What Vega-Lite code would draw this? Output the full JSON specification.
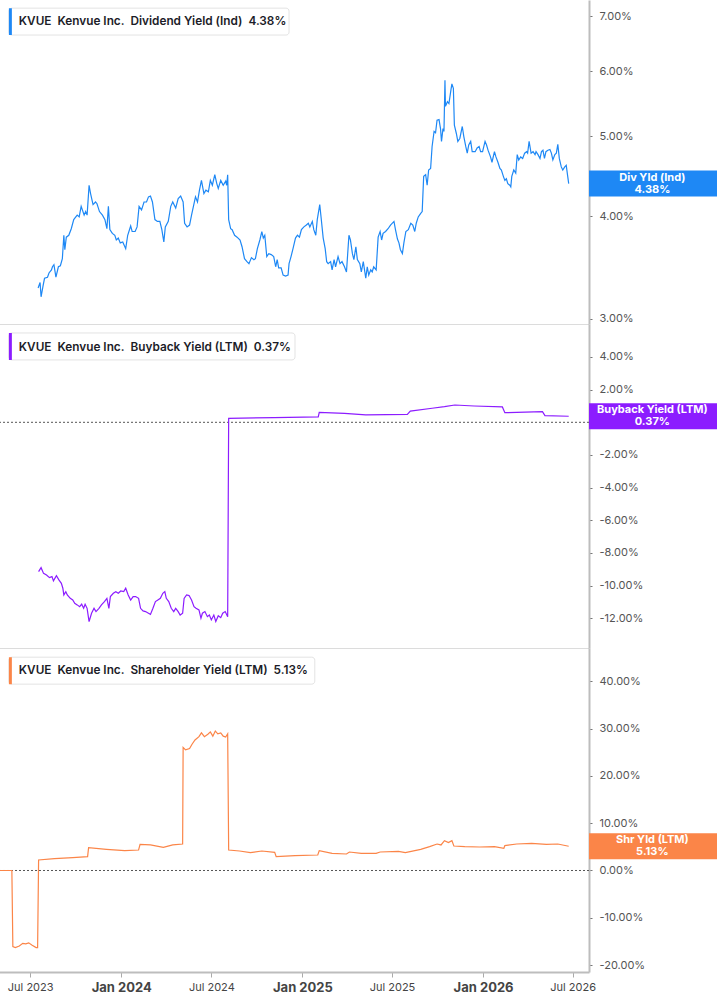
{
  "$schema": "https://vega.github.io/schema/vega-lite/v6.json",
  "padding": {"left": -4, "top": 0, "right": 4, "bottom": 0},
  "background": "white",
  "spacing": 0,
  "bounds": "flush",
  "config": {
    "view": {"stroke": null},
    "font": "Inter",
    "axis": {"grid": false, "labelFont": "Inter"},
    "text": {"font": "Inter"}
  },
  "datasets": {
    "div": [
      {"date":"2023-07-17","value":3.27},{"date":"2023-07-21","value":3.32},{"date":"2023-07-23","value":3.19},{"date":"2023-07-27","value":3.29},{"date":"2023-07-30","value":3.36},
      {"date":"2023-08-05","value":3.37},{"date":"2023-08-08","value":3.41},{"date":"2023-08-13","value":3.44},{"date":"2023-08-15","value":3.47},{"date":"2023-08-18","value":3.49},
      {"date":"2023-08-22","value":3.37},{"date":"2023-08-27","value":3.47},{"date":"2023-08-31","value":3.48},{"date":"2023-09-04","value":3.55},{"date":"2023-09-07","value":3.79},
      {"date":"2023-09-09","value":3.64},{"date":"2023-09-12","value":3.77},{"date":"2023-09-17","value":3.79},{"date":"2023-09-22","value":3.86},{"date":"2023-09-27","value":3.96},
      {"date":"2023-10-04","value":4.01},{"date":"2023-10-08","value":3.99},{"date":"2023-10-12","value":4.11},{"date":"2023-10-18","value":4.01},{"date":"2023-10-21","value":4.05},
      {"date":"2023-10-24","value":4.01},{"date":"2023-10-28","value":4.36},{"date":"2023-10-31","value":4.26},{"date":"2023-11-05","value":4.13},{"date":"2023-11-10","value":4.16},
      {"date":"2023-11-13","value":4.14},{"date":"2023-11-18","value":4.05},{"date":"2023-11-24","value":4.01},{"date":"2023-11-29","value":3.96},{"date":"2023-12-03","value":3.86},
      {"date":"2023-12-06","value":4.11},{"date":"2023-12-09","value":3.85},{"date":"2023-12-14","value":3.81},{"date":"2023-12-19","value":3.79},{"date":"2023-12-22","value":3.74},
      {"date":"2023-12-26","value":3.76},{"date":"2023-12-30","value":3.71},{"date":"2024-01-04","value":3.72},{"date":"2024-01-10","value":3.65},{"date":"2024-01-14","value":3.79},
      {"date":"2024-01-20","value":3.89},{"date":"2024-01-23","value":3.83},{"date":"2024-01-29","value":3.83},{"date":"2024-02-02","value":3.88},{"date":"2024-02-06","value":4.11},
      {"date":"2024-02-11","value":4.07},{"date":"2024-02-16","value":4.16},{"date":"2024-02-21","value":4.16},{"date":"2024-02-25","value":4.22},{"date":"2024-02-29","value":4.23},
      {"date":"2024-03-04","value":4.16},{"date":"2024-03-09","value":3.96},{"date":"2024-03-14","value":3.94},{"date":"2024-03-19","value":3.94},{"date":"2024-03-23","value":3.85},
      {"date":"2024-03-27","value":3.72},{"date":"2024-03-30","value":3.88},{"date":"2024-04-05","value":3.94},{"date":"2024-04-10","value":4.11},{"date":"2024-04-14","value":4.16},
      {"date":"2024-04-20","value":4.09},{"date":"2024-04-25","value":4.20},{"date":"2024-04-30","value":4.23},{"date":"2024-05-05","value":4.16},{"date":"2024-05-08","value":3.92},
      {"date":"2024-05-13","value":3.88},{"date":"2024-05-18","value":3.90},{"date":"2024-05-22","value":4.01},{"date":"2024-05-27","value":4.14},{"date":"2024-05-30","value":4.22},
      {"date":"2024-06-03","value":4.16},{"date":"2024-06-07","value":4.30},{"date":"2024-06-11","value":4.42},{"date":"2024-06-16","value":4.26},{"date":"2024-06-20","value":4.30},
      {"date":"2024-06-25","value":4.28},{"date":"2024-06-29","value":4.42},{"date":"2024-07-03","value":4.36},{"date":"2024-07-08","value":4.49},{"date":"2024-07-12","value":4.38},
      {"date":"2024-07-15","value":4.32},{"date":"2024-07-20","value":4.42},{"date":"2024-07-25","value":4.36},{"date":"2024-07-30","value":4.41},{"date":"2024-08-01","value":4.36},
      {"date":"2024-08-03","value":4.49},{"date":"2024-08-05","value":3.96},{"date":"2024-08-09","value":3.86},{"date":"2024-08-12","value":3.85},{"date":"2024-08-17","value":3.79},
      {"date":"2024-08-22","value":3.77},{"date":"2024-08-28","value":3.74},{"date":"2024-09-01","value":3.67},{"date":"2024-09-06","value":3.55},{"date":"2024-09-11","value":3.52},
      {"date":"2024-09-15","value":3.50},{"date":"2024-09-20","value":3.56},{"date":"2024-09-25","value":3.54},{"date":"2024-09-28","value":3.55},{"date":"2024-10-02","value":3.65},
      {"date":"2024-10-07","value":3.74},{"date":"2024-10-11","value":3.83},{"date":"2024-10-14","value":3.76},{"date":"2024-10-17","value":3.79},{"date":"2024-10-21","value":3.57},
      {"date":"2024-10-25","value":3.60},{"date":"2024-10-30","value":3.59},{"date":"2024-11-04","value":3.57},{"date":"2024-11-08","value":3.47},{"date":"2024-11-11","value":3.54},
      {"date":"2024-11-14","value":3.46},{"date":"2024-11-19","value":3.46},{"date":"2024-11-23","value":3.39},{"date":"2024-11-28","value":3.38},{"date":"2024-12-03","value":3.39},
      {"date":"2024-12-05","value":3.50},{"date":"2024-12-09","value":3.57},{"date":"2024-12-13","value":3.65},{"date":"2024-12-18","value":3.76},{"date":"2024-12-22","value":3.79},
      {"date":"2024-12-26","value":3.77},{"date":"2024-12-30","value":3.85},{"date":"2025-01-04","value":3.88},{"date":"2025-01-09","value":3.90},{"date":"2025-01-13","value":3.92},
      {"date":"2025-01-16","value":3.88},{"date":"2025-01-21","value":3.94},{"date":"2025-01-24","value":3.85},{"date":"2025-01-28","value":3.79},{"date":"2025-01-31","value":3.96},
      {"date":"2025-02-05","value":4.13},{"date":"2025-02-08","value":3.97},{"date":"2025-02-12","value":3.76},{"date":"2025-02-16","value":3.65},{"date":"2025-02-19","value":3.52},
      {"date":"2025-02-22","value":3.50},{"date":"2025-02-27","value":3.52},{"date":"2025-03-02","value":3.44},{"date":"2025-03-06","value":3.54},{"date":"2025-03-09","value":3.47},
      {"date":"2025-03-14","value":3.57},{"date":"2025-03-18","value":3.50},{"date":"2025-03-22","value":3.52},{"date":"2025-03-27","value":3.47},{"date":"2025-03-31","value":3.42},
      {"date":"2025-04-05","value":3.79},{"date":"2025-04-08","value":3.74},{"date":"2025-04-12","value":3.60},{"date":"2025-04-15","value":3.54},{"date":"2025-04-19","value":3.67},
      {"date":"2025-04-22","value":3.54},{"date":"2025-04-27","value":3.50},{"date":"2025-04-30","value":3.42},{"date":"2025-05-04","value":3.52},{"date":"2025-05-09","value":3.36},
      {"date":"2025-05-12","value":3.47},{"date":"2025-05-15","value":3.39},{"date":"2025-05-19","value":3.44},{"date":"2025-05-22","value":3.42},{"date":"2025-05-25","value":3.47},
      {"date":"2025-05-30","value":3.44},{"date":"2025-06-03","value":3.77},{"date":"2025-06-07","value":3.83},{"date":"2025-06-10","value":3.74},{"date":"2025-06-13","value":3.81},
      {"date":"2025-06-18","value":3.83},{"date":"2025-06-23","value":3.86},{"date":"2025-06-28","value":3.90},{"date":"2025-07-05","value":3.94},{"date":"2025-07-08","value":3.85},
      {"date":"2025-07-12","value":3.75},{"date":"2025-07-15","value":3.71},{"date":"2025-07-18","value":3.64},{"date":"2025-07-22","value":3.60},{"date":"2025-07-25","value":3.71},
      {"date":"2025-07-29","value":3.83},{"date":"2025-08-03","value":3.85},{"date":"2025-08-08","value":3.92},{"date":"2025-08-12","value":3.90},{"date":"2025-08-16","value":3.83},
      {"date":"2025-08-19","value":3.92},{"date":"2025-08-23","value":3.99},{"date":"2025-08-28","value":4.03},{"date":"2025-08-31","value":4.05},{"date":"2025-09-03","value":4.47},
      {"date":"2025-09-07","value":4.49},{"date":"2025-09-10","value":4.36},{"date":"2025-09-13","value":4.55},{"date":"2025-09-17","value":4.57},{"date":"2025-09-20","value":4.86},
      {"date":"2025-09-24","value":5.07},{"date":"2025-09-27","value":5.05},{"date":"2025-09-30","value":5.23},{"date":"2025-10-04","value":5.24},{"date":"2025-10-07","value":5.11},
      {"date":"2025-10-09","value":4.93},{"date":"2025-10-12","value":5.11},{"date":"2025-10-14","value":5.07},{"date":"2025-10-16","value":5.85},{"date":"2025-10-17","value":5.44},
      {"date":"2025-10-21","value":5.51},{"date":"2025-10-24","value":5.48},{"date":"2025-10-28","value":5.69},{"date":"2025-10-30","value":5.79},{"date":"2025-11-02","value":5.72},
      {"date":"2025-11-04","value":5.16},{"date":"2025-11-08","value":5.04},{"date":"2025-11-11","value":4.93},{"date":"2025-11-15","value":4.97},{"date":"2025-11-20","value":5.14},
      {"date":"2025-11-23","value":5.00},{"date":"2025-11-27","value":4.86},{"date":"2025-11-30","value":4.77},{"date":"2025-12-03","value":4.88},{"date":"2025-12-07","value":4.93},
      {"date":"2025-12-10","value":4.79},{"date":"2025-12-16","value":4.79},{"date":"2025-12-20","value":4.84},{"date":"2025-12-24","value":4.86},{"date":"2025-12-27","value":4.79},
      {"date":"2025-12-31","value":4.79},{"date":"2026-01-05","value":4.93},{"date":"2026-01-08","value":4.88},{"date":"2026-01-11","value":4.81},{"date":"2026-01-16","value":4.72},
      {"date":"2026-01-19","value":4.65},{"date":"2026-01-24","value":4.79},{"date":"2026-01-27","value":4.72},{"date":"2026-01-31","value":4.65},{"date":"2026-02-04","value":4.57},
      {"date":"2026-02-07","value":4.55},{"date":"2026-02-11","value":4.47},{"date":"2026-02-14","value":4.42},{"date":"2026-02-17","value":4.44},{"date":"2026-02-20","value":4.38},
      {"date":"2026-02-24","value":4.36},{"date":"2026-02-26","value":4.34},{"date":"2026-02-28","value":4.47},{"date":"2026-03-04","value":4.55},{"date":"2026-03-08","value":4.51},
      {"date":"2026-03-11","value":4.75},{"date":"2026-03-14","value":4.68},{"date":"2026-03-18","value":4.72},{"date":"2026-03-22","value":4.70},{"date":"2026-03-26","value":4.77},
      {"date":"2026-03-30","value":4.79},{"date":"2026-04-01","value":4.77},{"date":"2026-04-04","value":4.93},{"date":"2026-04-08","value":4.77},{"date":"2026-04-12","value":4.79},
      {"date":"2026-04-16","value":4.75},{"date":"2026-04-18","value":4.79},{"date":"2026-04-22","value":4.75},{"date":"2026-04-26","value":4.70},{"date":"2026-04-29","value":4.79},
      {"date":"2026-05-02","value":4.81},{"date":"2026-05-05","value":4.70},{"date":"2026-05-08","value":4.79},{"date":"2026-05-12","value":4.81},{"date":"2026-05-16","value":4.82},
      {"date":"2026-05-19","value":4.77},{"date":"2026-05-22","value":4.68},{"date":"2026-05-26","value":4.75},{"date":"2026-05-29","value":4.77},{"date":"2026-06-01","value":4.89},
      {"date":"2026-06-04","value":4.70},{"date":"2026-06-08","value":4.59},{"date":"2026-06-11","value":4.55},{"date":"2026-06-15","value":4.59},{"date":"2026-06-18","value":4.61},
      {"date":"2026-06-21","value":4.47},{"date":"2026-06-23","value":4.38}
    ],
    "bb": [
      {"date":"2023-07-18","value":-9.14},{"date":"2023-07-23","value":-8.90},{"date":"2023-07-28","value":-9.25},{"date":"2023-08-03","value":-9.35},{"date":"2023-08-09","value":-9.51},
      {"date":"2023-08-14","value":-9.45},{"date":"2023-08-17","value":-9.71},{"date":"2023-08-23","value":-9.39},{"date":"2023-08-28","value":-9.65},{"date":"2023-09-02","value":-9.86},
      {"date":"2023-09-05","value":-10.16},{"date":"2023-09-07","value":-10.57},{"date":"2023-09-11","value":-10.37},{"date":"2023-09-14","value":-10.57},{"date":"2023-09-20","value":-10.78},
      {"date":"2023-09-25","value":-10.88},{"date":"2023-09-29","value":-11.08},{"date":"2023-10-04","value":-11.18},{"date":"2023-10-09","value":-11.29},{"date":"2023-10-13","value":-11.14},
      {"date":"2023-10-17","value":-11.39},{"date":"2023-10-20","value":-11.14},{"date":"2023-10-24","value":-11.39},{"date":"2023-10-28","value":-12.20},{"date":"2023-11-02","value":-11.69},
      {"date":"2023-11-07","value":-11.39},{"date":"2023-11-11","value":-11.59},{"date":"2023-11-17","value":-11.39},{"date":"2023-11-22","value":-11.18},{"date":"2023-11-28","value":-10.98},
      {"date":"2023-12-03","value":-10.78},{"date":"2023-12-07","value":-11.39},{"date":"2023-12-10","value":-10.67},{"date":"2023-12-16","value":-10.47},{"date":"2023-12-21","value":-10.37},
      {"date":"2023-12-26","value":-10.47},{"date":"2023-12-31","value":-10.33},{"date":"2024-01-06","value":-10.37},{"date":"2024-01-10","value":-10.16},{"date":"2024-01-15","value":-10.57},
      {"date":"2024-01-20","value":-10.88},{"date":"2024-01-25","value":-10.67},{"date":"2024-01-30","value":-10.67},{"date":"2024-02-05","value":-10.78},{"date":"2024-02-09","value":-11.39},
      {"date":"2024-02-14","value":-11.55},{"date":"2024-02-19","value":-11.59},{"date":"2024-02-25","value":-11.69},{"date":"2024-02-29","value":-11.76},{"date":"2024-03-05","value":-11.39},
      {"date":"2024-03-10","value":-10.98},{"date":"2024-03-15","value":-10.88},{"date":"2024-03-20","value":-10.78},{"date":"2024-03-25","value":-10.47},{"date":"2024-03-29","value":-10.37},
      {"date":"2024-04-01","value":-10.78},{"date":"2024-04-06","value":-10.98},{"date":"2024-04-11","value":-11.39},{"date":"2024-04-16","value":-11.59},{"date":"2024-04-20","value":-11.39},
      {"date":"2024-04-25","value":-11.59},{"date":"2024-04-29","value":-11.80},{"date":"2024-05-04","value":-11.69},{"date":"2024-05-07","value":-10.78},{"date":"2024-05-12","value":-10.57},
      {"date":"2024-05-17","value":-10.61},{"date":"2024-05-22","value":-10.88},{"date":"2024-05-27","value":-11.29},{"date":"2024-05-31","value":-11.39},{"date":"2024-06-06","value":-11.49},
      {"date":"2024-06-10","value":-12.00},{"date":"2024-06-13","value":-11.69},{"date":"2024-06-18","value":-11.59},{"date":"2024-06-23","value":-11.90},{"date":"2024-06-27","value":-11.80},
      {"date":"2024-07-01","value":-12.10},{"date":"2024-07-06","value":-11.80},{"date":"2024-07-10","value":-12.20},{"date":"2024-07-15","value":-11.84},{"date":"2024-07-20","value":-11.96},
      {"date":"2024-07-24","value":-11.69},{"date":"2024-07-29","value":-11.59},{"date":"2024-08-03","value":-11.90},{"date":"2024-08-05","value":0.24},{"date":"2024-11-05","value":0.29},
      {"date":"2025-02-02","value":0.33},{"date":"2025-02-04","value":0.61},{"date":"2025-03-27","value":0.55},{"date":"2025-05-09","value":0.45},{"date":"2025-08-01","value":0.49},
      {"date":"2025-08-07","value":0.69},{"date":"2025-09-20","value":0.86},{"date":"2025-10-15","value":0.96},{"date":"2025-11-05","value":1.06},{"date":"2025-12-14","value":1.00},
      {"date":"2026-02-09","value":0.94},{"date":"2026-02-14","value":0.59},{"date":"2026-05-01","value":0.65},{"date":"2026-05-06","value":0.41},{"date":"2026-06-23","value":0.37}
    ],
    "shr": [
      {"date":"2023-04-29","value":0},{"date":"2023-05-25","value":0},{"date":"2023-05-27","value":-16.1},{"date":"2023-06-01","value":-16.3},{"date":"2023-06-09","value":-15.96},
      {"date":"2023-06-16","value":-15.4},{"date":"2023-06-22","value":-15.5},{"date":"2023-06-28","value":-15.3},{"date":"2023-07-05","value":-15.8},{"date":"2023-07-13","value":-16.3},
      {"date":"2023-07-16","value":-16.3},{"date":"2023-07-18","value":2.22},{"date":"2023-08-19","value":2.50},{"date":"2023-09-25","value":2.71},{"date":"2023-10-25","value":2.92},
      {"date":"2023-10-27","value":4.82},{"date":"2023-12-02","value":4.48},{"date":"2024-01-08","value":4.19},{"date":"2024-02-05","value":4.33},{"date":"2024-02-08","value":5.54},
      {"date":"2024-02-29","value":5.40},{"date":"2024-03-26","value":4.90},{"date":"2024-04-14","value":5.40},{"date":"2024-05-04","value":5.60},{"date":"2024-05-05","value":26.0},
      {"date":"2024-05-10","value":25.5},{"date":"2024-05-18","value":25.8},{"date":"2024-05-23","value":26.7},{"date":"2024-05-29","value":27.6},{"date":"2024-06-06","value":28.3},
      {"date":"2024-06-11","value":29.1},{"date":"2024-06-17","value":28.3},{"date":"2024-06-24","value":28.8},{"date":"2024-06-29","value":29.3},{"date":"2024-07-04","value":28.4},
      {"date":"2024-07-09","value":29.5},{"date":"2024-07-14","value":28.9},{"date":"2024-07-20","value":29.1},{"date":"2024-07-25","value":28.4},{"date":"2024-07-30","value":28.2},
      {"date":"2024-08-03","value":28.9},{"date":"2024-08-05","value":4.33},{"date":"2024-08-27","value":4.12},{"date":"2024-09-18","value":3.77},{"date":"2024-10-11","value":4.12},
      {"date":"2024-11-06","value":3.84},{"date":"2024-11-09","value":2.92},{"date":"2024-12-17","value":3.13},{"date":"2025-02-01","value":3.27},{"date":"2025-02-04","value":4.19},
      {"date":"2025-03-02","value":3.64},{"date":"2025-03-31","value":3.49},{"date":"2025-04-06","value":3.91},{"date":"2025-04-30","value":3.64},{"date":"2025-05-30","value":3.64},
      {"date":"2025-06-07","value":3.91},{"date":"2025-07-14","value":4.05},{"date":"2025-07-28","value":3.77},{"date":"2025-08-28","value":4.48},{"date":"2025-09-15","value":5.04},
      {"date":"2025-09-30","value":5.60},{"date":"2025-10-08","value":5.40},{"date":"2025-10-15","value":6.31},{"date":"2025-10-23","value":5.89},{"date":"2025-10-30","value":6.31},
      {"date":"2025-11-03","value":5.18},{"date":"2025-11-25","value":5.04},{"date":"2025-12-25","value":4.97},{"date":"2026-01-24","value":5.04},{"date":"2026-02-12","value":4.69},
      {"date":"2026-02-14","value":5.25},{"date":"2026-03-10","value":5.60},{"date":"2026-04-09","value":5.74},{"date":"2026-05-09","value":5.53},{"date":"2026-06-01","value":5.60},
      {"date":"2026-06-23","value":5.13}
    ]
  },
  "vconcat": [
    {
      "width": 590,
      "height": 324,
      "layer": [
        {
          "data": {"name": "div"},
          "mark": {"type": "line", "color": "#1e88f5", "strokeWidth": 1.2},
          "encoding": {
            "x": {"field": "date", "type": "temporal",
              "scale": {"type": "utc", "domain": [{"year": 2023, "month": 4, "date": 29, "utc": true}, {"year": 2026, "month": 8, "date": 3, "utc": true}]},
              "axis": {"title": null, "labels": false, "ticks": false, "domain": true, "domainColor": "#dcdcdc", "domainWidth": 1}},
            "y": {"field": "value", "type": "quantitative",
              "scale": {"type": "log", "domain": [2.956, 7.325], "nice": false, "zero": false},
              "axis": {"title": null, "orient": "right", "values": [3, 4, 5, 6, 7], "domainColor": "#bdbdbd", "domainWidth": 2, "tickColor": "#777", "tickSize": 3, "labelColor": "#555", "labelFontSize": 11, "labelPadding": 7,
                "labelExpr": "(datum.value < 0 ? '-' : '') + format(abs(datum.value), '.2f') + '%'"}}
          }
        },
        {
          "data": {"values": [{"header": "KVUE\u00a0 Kenvue Inc.\u00a0 Dividend Yield (Ind)\u00a0 4.38%", "label": "Div Yld (Ind)", "value": 4.38, "valueText": "4.38%"}]},
          "layer": [
            {"mark": {"type": "rect", "fill": "white", "stroke": "#e3e3e3", "strokeWidth": 1, "cornerRadius": 3},
              "encoding": {"x": {"datum": {"year": 2023, "month": 5, "date": 19, "utc": true}, "type": "temporal"}, "x2": {"datum": {"year": 2024, "month": 12, "date": 5, "utc": true}},
                "y": {"datum": 7.16, "type": "quantitative"}, "y2": {"datum": 6.64}}},
            {"mark": {"type": "rect", "fill": "#1e88f5"},
              "encoding": {"x": {"datum": {"year": 2023, "month": 5, "date": 19, "utc": true}, "type": "temporal"}, "x2": {"datum": {"year": 2023, "month": 5, "date": 25, "utc": true}},
                "y": {"datum": 7.16, "type": "quantitative"}, "y2": {"datum": 6.64}}},
            {"mark": {"type": "text", "align": "left", "baseline": "middle", "fontSize": 11.8, "fontWeight": 600, "color": "#1c1c28"},
              "encoding": {"x": {"datum": {"year": 2023, "month": 6, "date": 8, "utc": true}, "type": "temporal"}, "y": {"datum": 6.90, "type": "quantitative"}, "text": {"field": "header"}}},
            {"mark": {"type": "rect", "fill": "#1e88f5", "yOffset": -13, "y2Offset": 13},
              "encoding": {"x": {"datum": {"year": 2026, "month": 8, "date": 3, "utc": true}, "type": "temporal"}, "x2": {"datum": {"year": 2027, "month": 4, "date": 25, "utc": true}},
                "y": {"field": "value", "type": "quantitative"}, "y2": {"field": "value"}}},
            {"mark": {"type": "text", "align": "center", "baseline": "middle", "fontSize": 11, "fontWeight": "bold", "color": "white", "dy": -6},
              "encoding": {"x": {"datum": {"year": 2026, "month": 12, "date": 9, "utc": true}, "type": "temporal"}, "y": {"field": "value", "type": "quantitative"}, "text": {"field": "label"}}},
            {"mark": {"type": "text", "align": "center", "baseline": "middle", "fontSize": 11, "fontWeight": "bold", "color": "white", "dy": 6},
              "encoding": {"x": {"datum": {"year": 2026, "month": 12, "date": 9, "utc": true}, "type": "temporal"}, "y": {"field": "value", "type": "quantitative"}, "text": {"field": "valueText"}}}
          ]
        }
      ]
    },
    {
      "width": 590,
      "height": 324,
      "layer": [
        {
          "data": {"values": [{"zero": 0}]},
          "mark": {"type": "rule", "color": "#555", "strokeDash": [2, 2], "strokeWidth": 1},
          "encoding": {"y": {"field": "zero", "type": "quantitative"}}
        },
        {
          "data": {"name": "bb"},
          "mark": {"type": "line", "color": "#8c1cff", "strokeWidth": 1.2},
          "encoding": {
            "x": {"field": "date", "type": "temporal",
              "scale": {"type": "utc", "domain": [{"year": 2023, "month": 4, "date": 29, "utc": true}, {"year": 2026, "month": 8, "date": 3, "utc": true}]},
              "axis": {"title": null, "labels": false, "ticks": false, "domain": true, "domainColor": "#dcdcdc", "domainWidth": 1}},
            "y": {"field": "value", "type": "quantitative",
              "scale": {"domain": [-13.82, 6.02], "nice": false, "zero": false},
              "axis": {"title": null, "orient": "right", "values": [-12, -10, -8, -6, -4, -2, 0, 2, 4], "domainColor": "#bdbdbd", "domainWidth": 2, "tickColor": "#777", "tickSize": 3, "labelColor": "#555", "labelFontSize": 11, "labelPadding": 7,
                "labelExpr": "(datum.value < 0 ? '-' : '') + format(abs(datum.value), '.2f') + '%'"}}
          }
        },
        {
          "data": {"values": [{"header": "KVUE\u00a0 Kenvue Inc.\u00a0 Buyback Yield (LTM)\u00a0 0.37%", "label": "Buyback Yield (LTM)", "value": 0.37, "valueText": "0.37%"}]},
          "layer": [
            {"mark": {"type": "rect", "fill": "white", "stroke": "#e3e3e3", "strokeWidth": 1, "cornerRadius": 3},
              "encoding": {"x": {"datum": {"year": 2023, "month": 5, "date": 19, "utc": true}, "type": "temporal"}, "x2": {"datum": {"year": 2024, "month": 12, "date": 17, "utc": true}},
                "y": {"datum": 5.47, "type": "quantitative"}, "y2": {"datum": 3.82}}},
            {"mark": {"type": "rect", "fill": "#8c1cff"},
              "encoding": {"x": {"datum": {"year": 2023, "month": 5, "date": 19, "utc": true}, "type": "temporal"}, "x2": {"datum": {"year": 2023, "month": 5, "date": 25, "utc": true}},
                "y": {"datum": 5.47, "type": "quantitative"}, "y2": {"datum": 3.82}}},
            {"mark": {"type": "text", "align": "left", "baseline": "middle", "fontSize": 11.8, "fontWeight": 600, "color": "#1c1c28"},
              "encoding": {"x": {"datum": {"year": 2023, "month": 6, "date": 8, "utc": true}, "type": "temporal"}, "y": {"datum": 4.64, "type": "quantitative"}, "text": {"field": "header"}}},
            {"mark": {"type": "rect", "fill": "#8c1cff", "yOffset": -13, "y2Offset": 13},
              "encoding": {"x": {"datum": {"year": 2026, "month": 8, "date": 3, "utc": true}, "type": "temporal"}, "x2": {"datum": {"year": 2027, "month": 4, "date": 25, "utc": true}},
                "y": {"field": "value", "type": "quantitative"}, "y2": {"field": "value"}}},
            {"mark": {"type": "text", "align": "center", "baseline": "middle", "fontSize": 11, "fontWeight": "bold", "color": "white", "dy": -6},
              "encoding": {"x": {"datum": {"year": 2026, "month": 12, "date": 9, "utc": true}, "type": "temporal"}, "y": {"field": "value", "type": "quantitative"}, "text": {"field": "label"}}},
            {"mark": {"type": "text", "align": "center", "baseline": "middle", "fontSize": 11, "fontWeight": "bold", "color": "white", "dy": 6},
              "encoding": {"x": {"datum": {"year": 2026, "month": 12, "date": 9, "utc": true}, "type": "temporal"}, "y": {"field": "value", "type": "quantitative"}, "text": {"field": "valueText"}}}
          ]
        }
      ]
    },
    {
      "width": 590,
      "height": 324,
      "layer": [
        {
          "data": {"values": [{"zero": 0}]},
          "mark": {"type": "rule", "color": "#555", "strokeDash": [2, 2], "strokeWidth": 1},
          "encoding": {"y": {"field": "zero", "type": "quantitative"}}
        },
        {
          "data": {"name": "shr"},
          "mark": {"type": "line", "color": "#fb8548", "strokeWidth": 1.2},
          "encoding": {
            "x": {"field": "date", "type": "temporal",
              "scale": {"type": "utc", "domain": [{"year": 2023, "month": 4, "date": 29, "utc": true}, {"year": 2026, "month": 8, "date": 3, "utc": true}]},
              "axis": {"title": null, "domainColor": "#bdbdbd", "domainWidth": 2, "tickColor": "#aaa", "tickSize": 5, "labelPadding": 4, "labelColor": "#444",
                "values": [{"year": 2023, "month": 7, "date": 1, "utc": true}, {"year": 2024, "month": 1, "date": 1, "utc": true}, {"year": 2024, "month": 7, "date": 1, "utc": true}, {"year": 2025, "month": 1, "date": 1, "utc": true}, {"year": 2025, "month": 7, "date": 1, "utc": true}, {"year": 2026, "month": 1, "date": 1, "utc": true}, {"year": 2026, "month": 7, "date": 1, "utc": true}],
                "labelExpr": "utcFormat(datum.value, '%b %Y')",
                "labelFontWeight": {"condition": {"test": "utcmonth(datum.value) == 0", "value": "bold"}, "value": "normal"},
                "labelFontSize": {"condition": {"test": "utcmonth(datum.value) == 0", "value": 13}, "value": 11}}},
            "y": {"field": "value", "type": "quantitative",
              "scale": {"domain": [-21.46, 47.04], "nice": false, "zero": false},
              "axis": {"title": null, "orient": "right", "values": [-20, -10, 0, 10, 20, 30, 40], "domainColor": "#bdbdbd", "domainWidth": 2, "tickColor": "#777", "tickSize": 3, "labelColor": "#555", "labelFontSize": 11, "labelPadding": 7,
                "labelExpr": "(datum.value < 0 ? '-' : '') + format(abs(datum.value), '.2f') + '%'"}}
          }
        },
        {
          "data": {"values": [{"header": "KVUE\u00a0 Kenvue Inc.\u00a0 Shareholder Yield (LTM)\u00a0 5.13%", "label": "Shr Yld (LTM)", "value": 5.13, "valueText": "5.13%"}]},
          "layer": [
            {"mark": {"type": "rect", "fill": "white", "stroke": "#e3e3e3", "strokeWidth": 1, "cornerRadius": 3},
              "encoding": {"x": {"datum": {"year": 2023, "month": 5, "date": 19, "utc": true}, "type": "temporal"}, "x2": {"datum": {"year": 2025, "month": 1, "date": 26, "utc": true}},
                "y": {"datum": 45.1, "type": "quantitative"}, "y2": {"datum": 39.4}}},
            {"mark": {"type": "rect", "fill": "#fb8548"},
              "encoding": {"x": {"datum": {"year": 2023, "month": 5, "date": 19, "utc": true}, "type": "temporal"}, "x2": {"datum": {"year": 2023, "month": 5, "date": 25, "utc": true}},
                "y": {"datum": 45.1, "type": "quantitative"}, "y2": {"datum": 39.4}}},
            {"mark": {"type": "text", "align": "left", "baseline": "middle", "fontSize": 11.8, "fontWeight": 600, "color": "#1c1c28"},
              "encoding": {"x": {"datum": {"year": 2023, "month": 6, "date": 8, "utc": true}, "type": "temporal"}, "y": {"datum": 42.3, "type": "quantitative"}, "text": {"field": "header"}}},
            {"mark": {"type": "rect", "fill": "#fb8548", "yOffset": -13, "y2Offset": 13},
              "encoding": {"x": {"datum": {"year": 2026, "month": 8, "date": 3, "utc": true}, "type": "temporal"}, "x2": {"datum": {"year": 2027, "month": 4, "date": 25, "utc": true}},
                "y": {"field": "value", "type": "quantitative"}, "y2": {"field": "value"}}},
            {"mark": {"type": "text", "align": "center", "baseline": "middle", "fontSize": 11, "fontWeight": "bold", "color": "white", "dy": -6},
              "encoding": {"x": {"datum": {"year": 2026, "month": 12, "date": 9, "utc": true}, "type": "temporal"}, "y": {"field": "value", "type": "quantitative"}, "text": {"field": "label"}}},
            {"mark": {"type": "text", "align": "center", "baseline": "middle", "fontSize": 11, "fontWeight": "bold", "color": "white", "dy": 6},
              "encoding": {"x": {"datum": {"year": 2026, "month": 12, "date": 9, "utc": true}, "type": "temporal"}, "y": {"field": "value", "type": "quantitative"}, "text": {"field": "valueText"}}}
          ]
        }
      ]
    }
  ]
}
